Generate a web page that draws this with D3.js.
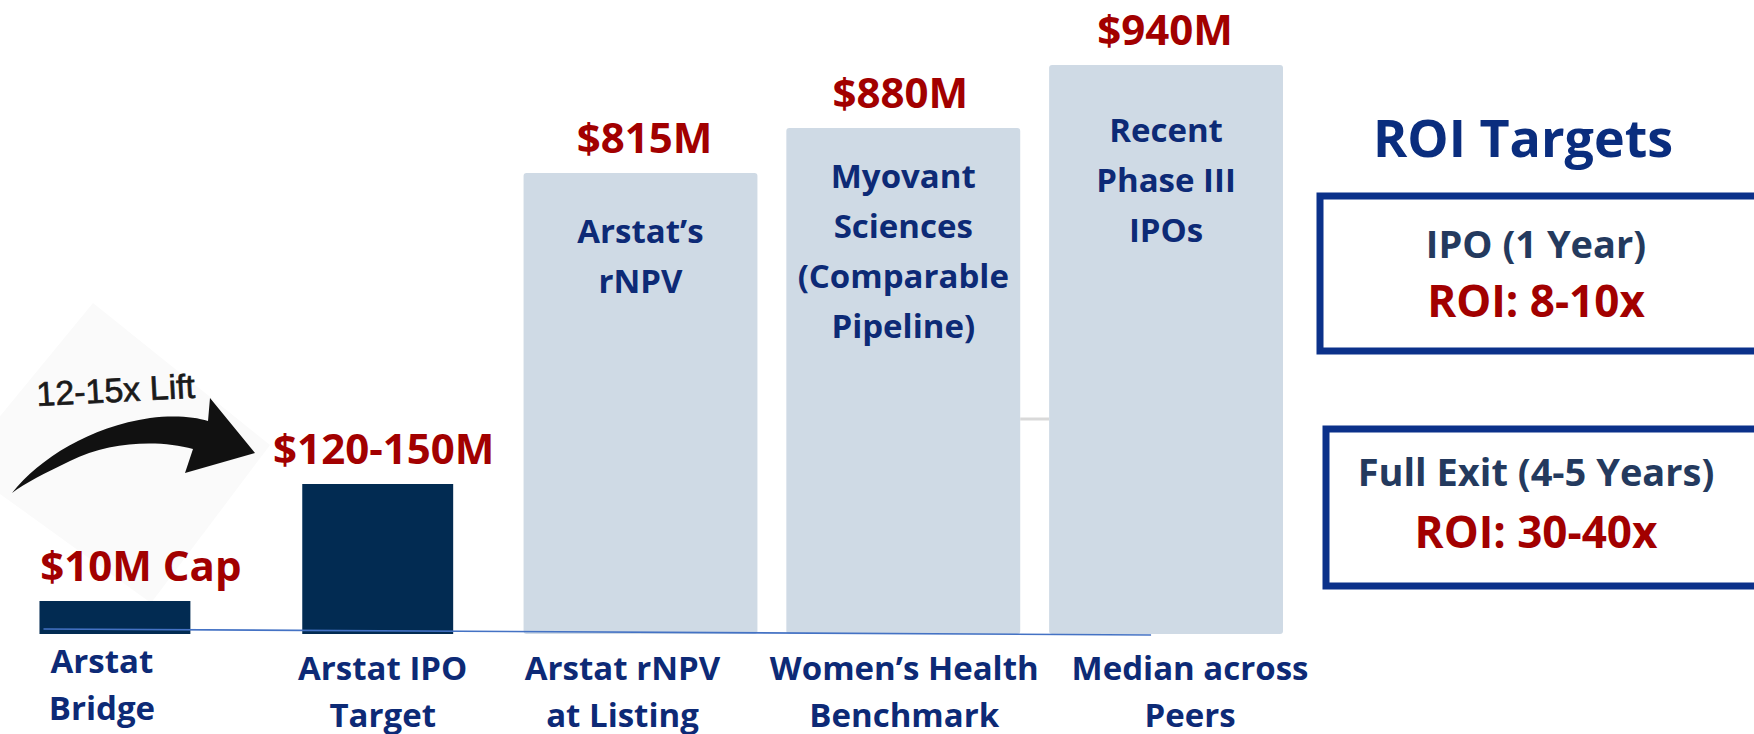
<!DOCTYPE html>
<html>
<head>
<meta charset="utf-8">
<script src="https://cdn.jsdelivr.net/npm/d3@7"></script>
<style>
  body { margin: 0; background: #fff; }
  text { font-family: "Open Sans", sans-serif; font-weight: 700; }
  .cat { fill: #0d2a76; font-size: 33px; }
  .note { fill: #0d2a76; font-size: 33px; }
  .value { fill: #a20000; font-size: 42px; }
</style>
</head>
<body>
<div id="chart"></div>
<script>
// chart data
const categories = ["Arstat|Bridge", "Arstat IPO|Target", "Arstat rNPV|at Listing", "Women’s Health|Benchmark", "Median across|Peers"]
const values = [10, 135, 815, 880, 940]   // $M (IPO target = midpoint of 120-150)
const valueLabels = ["$10M Cap", "$120-150M", "$815M", "$880M", "$940M"]
const groups = ["arstat", "arstat", "peer", "peer", "peer"]
const barNotes = [[], [], ["Arstat’s", "rNPV"], ["Myovant", "Sciences", "(Comparable", "Pipeline)"], ["Recent", "Phase III", "IPOs"]]
const liftLabel = "12-15x Lift"
const roiPeriods = ["IPO (1 Year)", "Full Exit (4-5 Years)"]
const roiMultiples = ["ROI: 8-10x", "ROI: 30-40x"]

//set svg
var width = 1754,
    height = 734,
    baseY = 634

const svg = d3.select("#chart")
      .append("svg")
        .attr("width", width)
        .attr("height", height)
        .attr("viewBox", "0 0 " + width + " " + height)

// x scale
const x = d3.scaleBand()
        .domain(categories)
        .range([-2, 1283])
        .paddingInner(0.11)

// the slide is not drawn to scale: non-proportional display scale
const y = d3.scaleLinear()
        .domain([0, 10, 135, 815, 880, 940])
        .range([baseY, baseY - 33, baseY - 150, baseY - 461, baseY - 506, baseY - 569])

const barW = (d, i) => groups[i] === "arstat" ? 151 / 234 * x.bandwidth() : x.bandwidth()
const cx = d => x(d) + x.bandwidth() / 2

// hand-placed nudges of the slide's text boxes
const labelNudge = [-13, 5, -18, 1, 24]
const valueNudge = [26, 6, 4, -3, -1]
const noteNudge = [0, 0, 2, -8, 9]

// faint backdrop of the arrow clip-art
svg.append("polygon")
    .attr("points", "93,303 270,445 151,603 -40,465")
    .attr("fill", "#fafafa")

// bars
svg.append("g")
  .selectAll("rect")
  .data(categories)
  .join("rect")
    .attr("x", (d, i) => cx(d) - barW(d, i) / 2)
    .attr("y", (d, i) => y(values[i]))
    .attr("width", barW)
    .attr("height", (d, i) => baseY - y(values[i]))
    .attr("rx", (d, i) => groups[i] === "peer" ? 3 : 0)
    .attr("fill", (d, i) => groups[i] === "arstat" ? "#022b52" : "#cfdae5")

// small grey connector between the last two bars
svg.append("line")
    .attr("x1", cx(categories[3]) + barW(categories[3], 3) / 2)
    .attr("x2", cx(categories[4]) - barW(categories[4], 4) / 2)
    .attr("y1", baseY - 215)
    .attr("y2", baseY - 215)
    .attr("stroke", "#d9d9d9")
    .attr("stroke-width", 3)

// baseline
svg.append("line")
    .attr("x1", cx(categories[0]) - barW(categories[0], 0) / 2 + 4)
    .attr("x2", cx(categories[4]) - 15)
    .attr("y1", baseY - 5)
    .attr("y2", baseY + 1)
    .attr("stroke", "#4472c4")
    .attr("stroke-width", 1.6)

// value labels
svg.append("g")
  .selectAll("text")
  .data(categories)
  .join("text")
    .attr("class", "value")
    .attr("x", (d, i) => cx(d) + valueNudge[i])
    .attr("y", (d, i) => y(values[i]) - 20)
    .attr("text-anchor", "middle")
    .text((d, i) => valueLabels[i])

// notes inside the peer bars
svg.append("g")
  .selectAll("text")
  .data(categories)
  .join("text")
    .attr("class", "note")
    .attr("text-anchor", "middle")
    .attr("x", d => cx(d))
    .attr("y", (d, i) => y(values[i]) + 68 + noteNudge[i])
  .selectAll("tspan")
  .data((d, i) => barNotes[i].map(t => ({t, x: cx(d)})))
  .join("tspan")
    .attr("x", d => d.x)
    .attr("dy", (d, j) => j === 0 ? 0 : 50)
    .text(d => d.t)

// category labels
svg.append("g")
  .selectAll("text")
  .data(categories)
  .join("text")
    .attr("class", "cat")
    .attr("text-anchor", "middle")
    .attr("y", (d, i) => i === 0 ? 673 : 680)
  .selectAll("tspan")
  .data((d, i) => d.split("|").map(t => ({t, x: cx(d) + labelNudge[i]})))
  .join("tspan")
    .attr("x", d => d.x)
    .attr("dy", (d, j) => j === 0 ? 0 : 47)
    .text(d => d.t)

// lift arrow from bridge to IPO
const arrow = d3.path()
arrow.moveTo(12, 493)
arrow.bezierCurveTo(40, 458, 90, 427, 150, 418)
arrow.bezierCurveTo(175, 415, 195, 417, 208, 421)
arrow.lineTo(210, 398)
arrow.lineTo(255, 453)
arrow.lineTo(185, 473)
arrow.lineTo(193, 449)
arrow.bezierCurveTo(160, 440, 110, 441, 70, 461)
arrow.bezierCurveTo(45, 473, 25, 483, 12, 493)
arrow.closePath()

svg.append("path")
    .attr("d", arrow.toString())
    .attr("fill", "#111")

svg.append("text")
    .attr("x", 37)
    .attr("y", 406)
    .attr("transform", "rotate(-3, 37, 406)")
    .style("font-family", "'Liberation Sans', Arial, sans-serif")
    .style("font-weight", 400)
    .style("font-size", "34px")
    .attr("fill", "#1a1a1a")
    .attr("stroke", "#1a1a1a")
    .attr("stroke-width", 0.7)
    .text(liftLabel)

// ROI targets panel
svg.append("text")
    .attr("x", 1523)
    .attr("y", 157)
    .attr("text-anchor", "middle")
    .style("font-size", "52px")
    .attr("fill", "#0a2d7e")
    .text("ROI Targets")

const boxTop = [196, 429]
const box = svg.append("g")
  .selectAll("g")
  .data(roiPeriods)
  .join("g")
    .attr("transform", (d, i) => `translate(${1320 + i * 6},${boxTop[i]})`)

box.append("rect")
    .attr("width", 450)
    .attr("height", (d, i) => 155 + i * 2)
    .attr("fill", "#fff")
    .attr("stroke", "#0b318a")
    .attr("stroke-width", 7)

box.append("text")
    .attr("x", (d, i) => 216 - i * 6)
    .attr("y", (d, i) => 62 - i * 5)
    .attr("text-anchor", "middle")
    .style("font-size", "38px")
    .attr("fill", "#243a5e")
    .text(d => d)

box.append("text")
    .attr("x", (d, i) => 216 - i * 6)
    .attr("y", (d, i) => 121 - i * 2)
    .attr("text-anchor", "middle")
    .style("font-size", "44px")
    .attr("fill", "#a20000")
    .text((d, i) => roiMultiples[i])
</script>
</body>
</html>
